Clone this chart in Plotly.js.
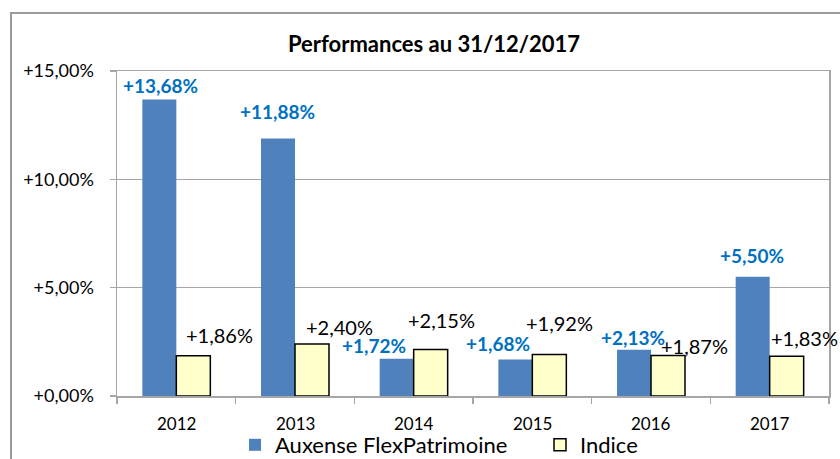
<!DOCTYPE html>
<html>
<head>
<meta charset="utf-8">
<script src="https://cdn.plot.ly/plotly-3.0.1.min.js"></script>
<style>
  html, body { margin: 0; padding: 0; background: #fff; overflow: hidden; }
  #wrap { position: relative; width: 840px; height: 459px; overflow: hidden; }
  #chart { width: 840px; height: 459px; }
  #frame { position: absolute; left: 10px; top: 12px; width: 900px; height: 600px;
           border: 2px solid #9a9a9a; pointer-events: none; box-sizing: border-box; }
</style>
</head>
<body>
<div id="wrap">
  <div id="chart"></div>
  <div id="frame"></div>
</div>
<script>
// ---- data ----
const years = ["2012", "2013", "2014", "2015", "2016", "2017"];
const fundName = "Auxense FlexPatrimoine";
const indexName = "Indice";
const fundValues = [13.68, 11.88, 1.72, 1.68, 2.13, 5.50];
const indexValues = [1.86, 2.40, 2.15, 1.92, 1.87, 1.83];
const yTickValues = [0, 5, 10, 15];
const yTickLabels = ["+0,00%", "+5,00%", "+10,00%", "+15,00%"];
const chartTitle = "Performances au 31/12/2017";

// label offsets (px) as placed in the original chart
const fundLabelShiftX = [-16, -18, -40, -34, -18, -18];
const fundLabelShiftY = [14, 27, 13, 16, 12, 21];
const indexLabelShiftX = [43, 44, 28, 27, 43, 35];
const indexLabelShiftY = [21, 17, 29, 31, 9, 18];

function fmt(v) { return "+" + v.toFixed(2).replace(".", ",") + "%"; }

const FONT = "Lato, 'Open Sans', sans-serif";
const GRID = "#a6a6a6";

const traces = [
  {
    type: "bar", name: fundName, x: years, y: fundValues,
    marker: { color: "#4f81bd", line: { width: 0 } },
    hoverinfo: "skip"
  },
  {
    type: "bar", name: indexName, x: years, y: indexValues,
    marker: { color: "#ffffcc", line: { color: "#000000", width: 1.5 } },
    hoverinfo: "skip"
  }
];

const annotations = [];
years.forEach((yr, i) => {
  annotations.push({
    x: i, y: fundValues[i], xref: "x", yref: "y",
    text: "<b>" + fmt(fundValues[i]) + "</b>", showarrow: false,
    xanchor: "center", yanchor: "middle",
    xshift: fundLabelShiftX[i], yshift: fundLabelShiftY[i],
    font: { family: FONT, size: 19, color: "#0070c0" }
  });
  annotations.push({
    x: i, y: indexValues[i], xref: "x", yref: "y",
    text: fmt(indexValues[i]), showarrow: false,
    xanchor: "center", yanchor: "middle",
    xshift: indexLabelShiftX[i], yshift: indexLabelShiftY[i],
    font: { family: FONT, size: 20, color: "#000000" }
  });
  // category label below the axis
  annotations.push({
    x: i, y: 0, xref: "x", yref: "paper",
    text: yr, showarrow: false,
    xanchor: "center", yanchor: "middle", yshift: -27,
    font: { family: FONT, size: 17, color: "#000000" }
  });
});

const layout = {
  width: 840, height: 459,
  margin: { l: 117, r: 11, t: 71, b: 63, pad: 0 },
  paper_bgcolor: "rgba(0,0,0,0)", plot_bgcolor: "#ffffff",
  font: { family: FONT, color: "#000" },
  title: {
    text: "<b>" + chartTitle + "</b>",
    xref: "container", yref: "container",
    x: 434 / 840, y: 1 - 44 / 459, xanchor: "center", yanchor: "middle",
    font: { family: FONT, size: 22, color: "#000" }
  },
  barmode: "group", bargap: 0.427, bargroupgap: 0,
  showlegend: true,
  legend: {
    orientation: "h", xref: "container", yref: "container",
    x: 235 / 840, y: 1 - 445 / 459, xanchor: "left", yanchor: "middle",
    font: { family: FONT, size: 22, color: "#000" },
    itemwidth: 30, entrywidth: 260, traceorder: "normal", bgcolor: "rgba(0,0,0,0)"
  },
  xaxis: {
    type: "category", range: [-0.5, years.length - 0.5],
    showgrid: false, zeroline: false, showticklabels: false,
    showline: true, linecolor: GRID, linewidth: 1.5, mirror: true,
    ticks: "outside", ticklen: 6, tickcolor: GRID, tickwidth: 1.5,
    tickson: "boundaries"
  },
  yaxis: {
    range: [0, 15], tickvals: yTickValues, ticktext: yTickLabels,
    showgrid: true, gridcolor: GRID, gridwidth: 1.5, zeroline: false,
    showline: true, linecolor: GRID, linewidth: 1.5, mirror: true,
    ticks: "outside", ticklen: 6, tickcolor: GRID, tickwidth: 1.5,
    tickfont: { family: FONT, size: 18, color: "#000" }, ticklabelstandoff: 12
  },
  annotations: annotations
};

Plotly.newPlot("chart", traces, layout, { displayModeBar: false, staticPlot: true });
</script>
</body>
</html>
